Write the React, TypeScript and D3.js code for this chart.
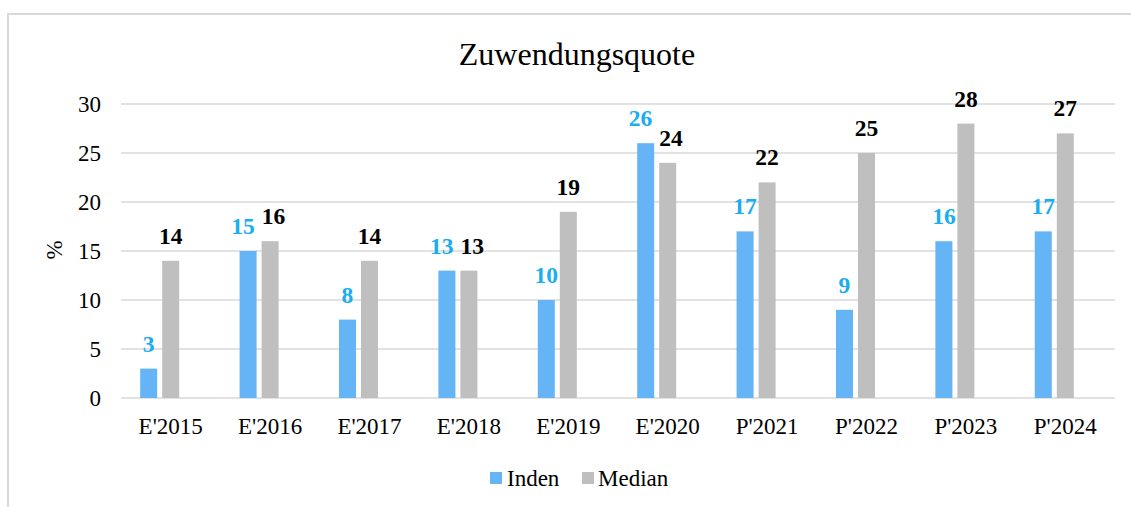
import React from "react";
import * as d3 from "d3";

const categories = ["E'2015", "E'2016", "E'2017", "E'2018", "E'2019", "E'2020", "P'2021", "P'2022", "P'2023", "P'2024"];
const indenValues = [3, 15, 8, 13, 10, 26, 17, 9, 16, 17];
const medianValues = [14, 16, 14, 13, 19, 24, 22, 25, 28, 27];
const yTicks = [0, 5, 10, 15, 20, 25, 30];
const seriesKeys = ["Inden", "Median", "Hidden"];

const W = 1131;
const H = 507;
const FONT = "Liberation Serif, Tinos, Times New Roman, Times, DejaVu Serif, serif";
const INDEN_COLOR = "#64B4F6";
const INDEN_LABEL = "#1AADEF";
const MEDIAN_COLOR = "#BFBFBF";
const GRID = "#D9D9D9";

export default function App() {
  const x = d3.scaleBand<string>().domain(categories).range([121, 1115]).padding(0);
  const y = d3.scaleLinear().domain([0, 30]).range([398, 104]);
  const groupW = x.bandwidth() * 0.614;
  const x1 = d3.scaleBand<string>().domain(seriesKeys).range([0, groupW]).paddingInner(0.227).paddingOuter(0);
  const off = (x.bandwidth() - groupW) / 2;
  const fs = 23;
  const lfs = 23.5;
  const charW = lfs * 0.5;

  return (
    <svg width={W} height={H} style={{ position: "absolute", left: 0, top: 0, background: "#fff", fontFamily: FONT }}>
      <rect x={8} y={14} width={1300} height={700} fill="#fff" stroke={GRID} strokeWidth={2} />
      <text x={577} y={65} textAnchor="middle" style={{ fontFamily: FONT }} fontSize={32} fill="#000">Zuwendungsquote</text>
      <text transform={`translate(62,250) rotate(-90)`} textAnchor="middle" style={{ fontFamily: FONT }} fontSize={fs} fill="#000">%</text>
      {yTicks.map((t) => (
        <g key={t}>
          <line x1={121} x2={1115} y1={y(t)} y2={y(t)} stroke={GRID} strokeWidth={1.5} />
          <text x={101} y={y(t)} dy="0.36em" textAnchor="end" style={{ fontFamily: FONT }} fontSize={fs} fill="#000">{t}</text>
        </g>
      ))}
      {categories.map((c, i) => {
        const bx = (x(c) as number) + off;
        const xi = bx + (x1("Inden") as number);
        const xm = bx + (x1("Median") as number);
        const bw = x1.bandwidth();
        const yI = y(indenValues[i]) - 17;
        const yM = y(medianValues[i]) - 17;
        let cI = xi + bw / 2;
        let cM = xm + bw / 2;
        const wI = String(indenValues[i]).length * charW;
        const wM = String(medianValues[i]).length * charW;
        const overlap = cI + wI / 2 + 7 - (cM - wM / 2);
        if (overlap > 0 && Math.abs(yI - yM) < lfs) {
          cI -= overlap * 0.6;
          cM += overlap * 0.4;
        }
        return (
          <g key={c}>
            <rect x={xi} y={y(indenValues[i])} width={bw} height={y(0) - y(indenValues[i])} fill={INDEN_COLOR} />
            <rect x={xm} y={y(medianValues[i])} width={bw} height={y(0) - y(medianValues[i])} fill={MEDIAN_COLOR} />
            <text x={cI} y={yI} textAnchor="middle" style={{ fontFamily: FONT }} fontWeight="bold" fontSize={lfs} fill={INDEN_LABEL}>{indenValues[i]}</text>
            <text x={cM} y={yM} textAnchor="middle" style={{ fontFamily: FONT }} fontWeight="bold" fontSize={lfs} fill="#000">{medianValues[i]}</text>
            <text x={(x(c) as number) + x.bandwidth() / 2} y={434} textAnchor="middle" style={{ fontFamily: FONT }} fontSize={fs} fill="#000">{c}</text>
          </g>
        );
      })}
      <rect x={490} y={472} width={12} height={12} fill={INDEN_COLOR} />
      <text x={507} y={486} style={{ fontFamily: FONT }} fontSize={fs} fill="#000">Inden</text>
      <rect x={582} y={472} width={12} height={12} fill={MEDIAN_COLOR} />
      <text x={598} y={486} style={{ fontFamily: FONT }} fontSize={fs} fill="#000">Median</text>
    </svg>
  );
}
